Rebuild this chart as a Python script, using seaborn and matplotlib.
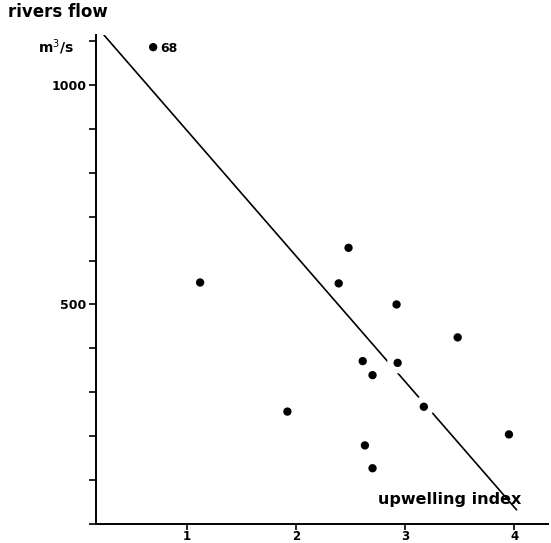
import numpy as np
import matplotlib
matplotlib.use('Agg')
import matplotlib.pyplot as plt
import seaborn as sns

# upwelling index vs rivers flow (m3/s)
upwelling = [0.69, 1.12, 1.92, 2.39, 2.48, 2.61, 2.70, 2.63, 2.70, 2.92, 2.93, 3.17, 3.48, 3.95]
flow = [1086, 550, 256, 548, 629, 371, 339, 179, 127, 500, 367, 267, 425, 204]
point_labels = {0: '68'}

# fitted line
fit_intercept = 1182
fit_slope = -286
fit_x_range = [0.24, 4.02]

y_ticks = list(range(0, 1200, 100))
y_ticklabels = ['500' if v == 500 else '1000' if v == 1000 else '' for v in y_ticks]
x_ticks = [1, 2, 3, 4]

sns.set_style('ticks')
plt.rcParams['font.family'] = ['DejaVu Sans']
plt.rcParams['text.color'] = 'black'

fig = plt.figure(figsize=(5.51, 5.43), dpi=100)
ax = fig.add_axes([0.174, 0.035, 0.821, 0.900])

lx = np.array(fit_x_range)
ax.plot(lx, fit_intercept + fit_slope * lx, color='black', lw=1.2, zorder=1)

# white halos break the line near the dots, as in the original drawing
sns.scatterplot(x=upwelling, y=flow, ax=ax, s=230, color='white', edgecolor='none', zorder=2)
sns.scatterplot(x=upwelling, y=flow, ax=ax, s=36, color='black', edgecolor='none', zorder=3)

for i, txt in point_labels.items():
    ax.annotate(txt, (upwelling[i], flow[i]), xytext=(5, -1), textcoords='offset points',
                fontsize=9, fontweight='bold', va='center', color='black')

ax.set_xlim(0.165, 4.31)
ax.set_ylim(0, 1113)
ax.set_yticks(y_ticks)
ax.set_yticklabels(y_ticklabels, fontsize=9, fontweight='bold')
ax.set_xticks(x_ticks)
ax.set_xticklabels([str(v) for v in x_ticks], fontsize=8.5, fontweight='bold')
ax.tick_params(axis='y', length=5, width=1.2, pad=2, colors='black')
ax.tick_params(axis='x', length=4, width=1.2, pad=0.5, colors='black')

sns.despine(ax=ax)
for s in ['left', 'bottom']:
    ax.spines[s].set_linewidth(1.4)
    ax.spines[s].set_color('black')

fig.text(8 / 551, 1 - 12 / 543, 'rivers flow', fontsize=12, fontweight='bold', va='center', ha='left')
fig.text(38 / 551, 1 - 47 / 543, 'm$^3$/s', fontsize=10, fontweight='bold', va='center', ha='left')
ax.text(0.94, 0.05, 'upwelling index', transform=ax.transAxes, fontsize=11.5,
        fontweight='bold', ha='right', va='center')

fig.savefig('out.png', dpi=100)
